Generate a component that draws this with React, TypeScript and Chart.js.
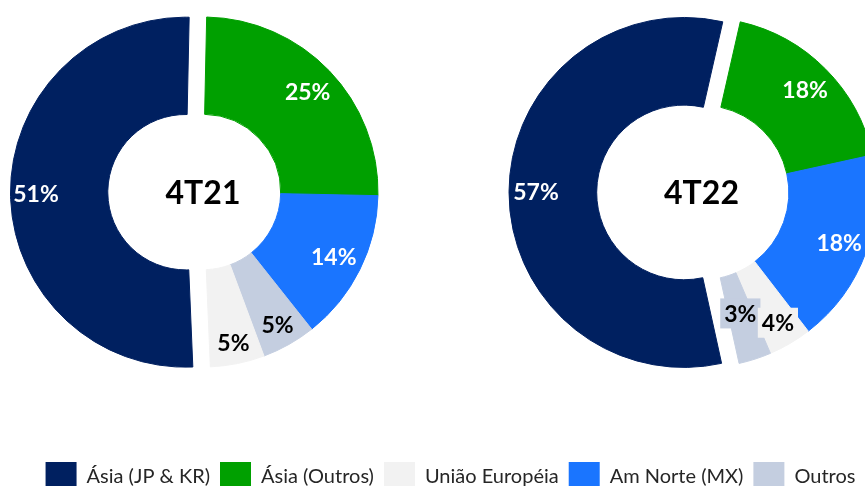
import React, { useEffect, useRef } from 'react';
import { Chart, registerables } from 'chart.js';

Chart.register(...registerables);

// ---- data ----
const CATEGORIES = ['Ásia (JP & KR)', 'Ásia (Outros)', 'União Européia', 'Am Norte (MX)', 'Outros'];
const COLORS = ['#002060', '#00A000', '#F2F2F2', '#1A75FF', '#C4CEE0'];
const LABEL_COLORS = ['#FFFFFF', '#FFFFFF', '#000000', '#FFFFFF', '#000000'];
const SHARE_4T21 = [51, 25, 5, 14, 5];
const SHARE_4T22 = [57, 18, 4, 18, 3];
// clockwise drawing order (category indices) as seen in each chart
const ORDER_4T21 = [1, 3, 4, 2, 0];
const ORDER_4T22 = [1, 3, 2, 4, 0];
const TITLES = ['4T21', '4T22'];

type DonutCfg = {
  title: string;
  shares: number[];
  order: number[];
  rotation: number;
  cutout: string;
  explodeCat: number;
  explode: number;
  labelDist: number[];
  labelBg: (string | null)[];
  box: { left: number; top: number; width: number; height: number };
};

const DONUTS: DonutCfg[] = [
  {
    title: TITLES[0],
    shares: SHARE_4T21,
    order: ORDER_4T21,
    rotation: 1.2,
    cutout: '44.4%',
    explodeCat: 0,
    explode: 17.5,
    labelDist: [149.5, 145, 154, 146, 152],
    labelBg: [null, null, null, null, null],
    box: { left: 3, top: -3, width: 400, height: 390 },
  },
  {
    title: TITLES[1],
    shares: SHARE_4T22,
    order: ORDER_4T22,
    rotation: 12.8,
    cutout: '49.9%',
    explodeCat: 0,
    explode: 17.5,
    labelDist: [148, 146, 151, 146.5, 127],
    labelBg: [null, null, '#F2F2F2', null, '#C4CEE0'],
    box: { left: 501, top: -3, width: 401, height: 391 },
  },
];

const donutDecor = {
  id: 'donutDecor',
  afterUpdate(chart: any, _args: any, opts: any) {
    const meta = chart.getDatasetMeta(0);
    meta.data.forEach((el: any, i: number) => {
      const d = opts.explode[i] || 0;
      if (d) {
        const mid = (el.startAngle + el.endAngle) / 2;
        el.x += Math.cos(mid) * d;
        el.y += Math.sin(mid) * d;
      }
    });
  },
  afterDatasetsDraw(chart: any, _args: any, opts: any) {
    const ctx = chart.ctx;
    const meta = chart.getDatasetMeta(0);
    ctx.save();
    const size = 23;
    ctx.font = `bold ${size}px Lato`;
    ctx.textAlign = 'center';
    ctx.textBaseline = 'alphabetic';
    const idx = meta.data.map((_: any, i: number) => i).reverse();
    idx.forEach((i: number) => {
      const el = meta.data[i];
      const mid = (el.startAngle + el.endAngle) / 2;
      const d = opts.labelDist[i];
      const x = el.x + Math.cos(mid) * d;
      const y = el.y + Math.sin(mid) * d;
      const text = opts.labels[i];
      if (opts.labelBg[i]) {
        const w = ctx.measureText(text).width + 8;
        ctx.fillStyle = opts.labelBg[i];
        ctx.fillRect(x - w / 2, y - 15, w, 30);
      }
      ctx.fillStyle = opts.labelColors[i];
      ctx.fillText(text, x, y + size * 0.36);
    });
    const ca = chart.chartArea;
    const ts = 32;
    ctx.font = `bold ${ts}px Lato`;
    ctx.fillStyle = '#000000';
    ctx.fillText(opts.title, (ca.left + ca.right) / 2, (ca.top + ca.bottom) / 2 + ts * 0.36);
    ctx.restore();
  },
};

function Donut({ cfg }: { cfg: DonutCfg }) {
  const ref = useRef<HTMLCanvasElement>(null);
  useEffect(() => {
    const cats = cfg.order;
    const chart = new Chart(ref.current as HTMLCanvasElement, {
      type: 'doughnut',
      data: {
        labels: cats.map((c) => CATEGORIES[c]),
        datasets: [
          {
            data: cats.map((c) => cfg.shares[c]),
            backgroundColor: cats.map((c) => COLORS[c]),
            borderColor: cats.map((c) => COLORS[c]),
            borderWidth: 1,
            radius: 175,
            cutout: cfg.cutout,
            rotation: cfg.rotation,
          } as any,
        ],
      },
      options: {
        responsive: false,
        animation: false,
        events: [],
        rotation: cfg.rotation,
        layout: { padding: 0 },
        plugins: {
          legend: { display: false },
          tooltip: { enabled: false },
          donutDecor: {
            explode: cats.map((c) => (c === cfg.explodeCat ? cfg.explode : 0)),
            labelDist: cats.map((c) => cfg.labelDist[c]),
            labelBg: cats.map((c) => cfg.labelBg[c]),
            labels: cats.map((c) => `${cfg.shares[c]}%`),
            labelColors: cats.map((c) => LABEL_COLORS[c]),
            title: cfg.title,
          },
        } as any,
      },
      plugins: [donutDecor as any],
    });
    return () => chart.destroy();
  }, [cfg]);
  const b = cfg.box;
  return (
    <canvas
      ref={ref}
      width={b.width}
      height={b.height}
      style={{ position: 'absolute', left: b.left, top: b.top, width: b.width, height: b.height }}
    />
  );
}

function Legend() {
  const ref = useRef<HTMLCanvasElement>(null);
  useEffect(() => {
    const chart = new Chart(ref.current as HTMLCanvasElement, {
      type: 'doughnut',
      data: {
        labels: CATEGORIES,
        datasets: [
          {
            data: SHARE_4T22,
            backgroundColor: COLORS,
            borderWidth: 0,
            radius: 0,
          } as any,
        ],
      },
      options: {
        responsive: false,
        animation: false,
        events: [],
        layout: { padding: 0 },
        plugins: {
          legend: {
            display: true,
            position: 'top',
            maxHeight: 200,
            labels: {
              boxWidth: 31,
              boxHeight: 30,
              padding: 10,
              color: '#262626',
              font: { family: 'Lato', size: 20 },
            },
          } as any,
          tooltip: { enabled: false },
        },
      },
    });
    return () => chart.destroy();
  }, []);
  return (
    <canvas
      ref={ref}
      width={865}
      height={100}
      style={{ position: 'absolute', left: 18, top: 452, width: 865, height: 100 }}
    />
  );
}

export default function App() {
  return (
    <div
      style={{
        position: 'fixed',
        left: 0,
        top: 0,
        width: 865,
        height: 486,
        overflow: 'hidden',
        background: '#FFFFFF',
      }}
    >
      {DONUTS.map((d) => (
        <Donut key={d.title} cfg={d} />
      ))}
      <Legend />
    </div>
  );
}
